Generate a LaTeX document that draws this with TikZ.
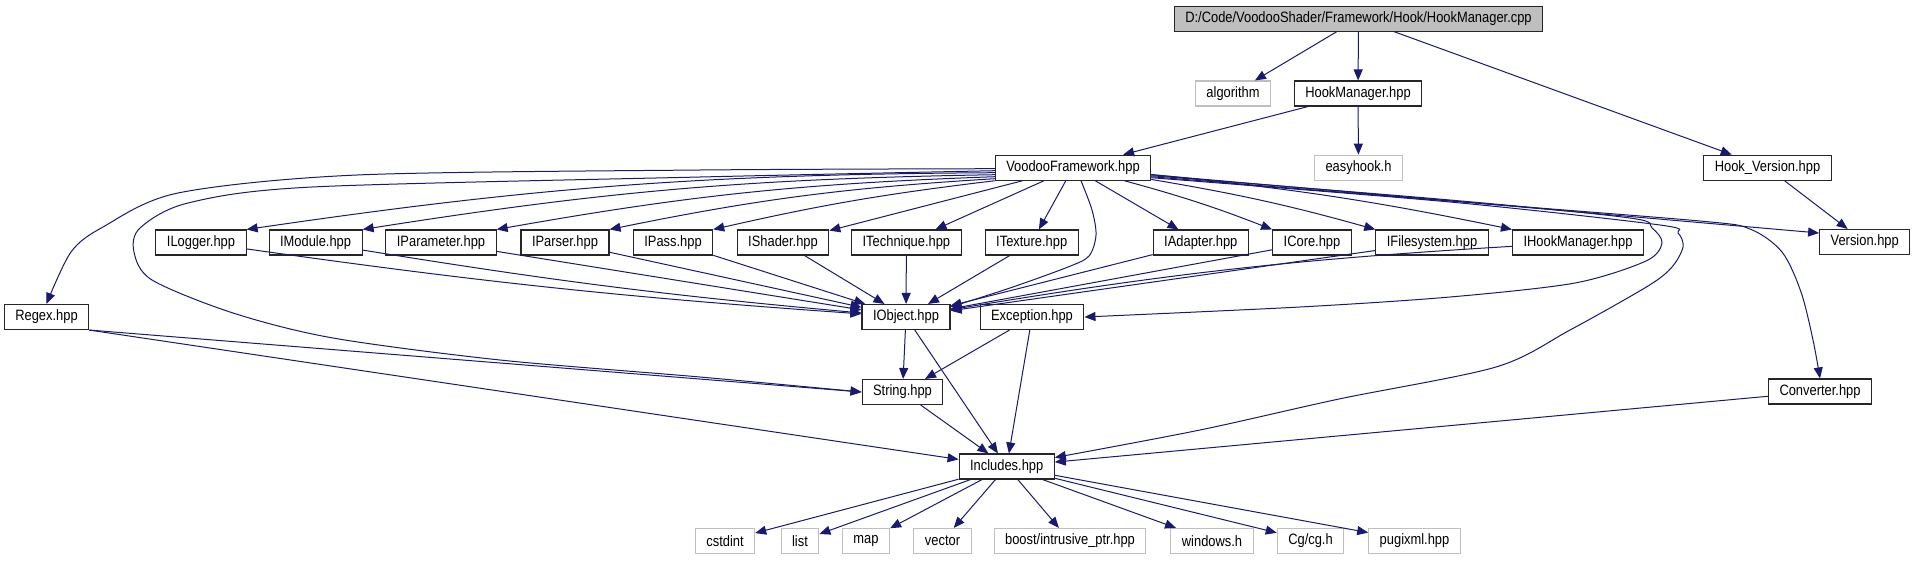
\documentclass[tikz,border=0pt]{standalone}
\usepackage{fontspec}
\setmainfont{Liberation Sans}[FakeStretch=0.86]
\usetikzlibrary{arrows.meta}

\definecolor{depblue}{RGB}{25,25,112}
\definecolor{grey75}{RGB}{191,191,191}

\begin{document}
\begin{tikzpicture}[
  x=1pt, y=-1pt,
  font=\fontsize{15pt}{16pt}\selectfont,
  hdr/.style={draw=black!85, line width=1.1pt, fill=white, inner xsep=11pt,
              inner ysep=0pt, minimum height=25pt},
  sysinc/.style={hdr, draw=grey75},
  srcfile/.style={hdr, fill=grey75},
  dep/.style={draw=depblue, line width=1pt,
              -{Triangle[length=11pt, width=9pt]}},
]
  \useasboundingbox (0,0) rectangle (1916,560);

  % Top of the graph
  \node[srcfile] (main) at (1358.5,18.7)
    {D:/Code/VoodooShader/Framework/Hook/HookManager.cpp};
  \node[sysinc] (algorithm) at (1233,93.5) {algorithm};
  \node[hdr] (hookmgr) at (1358,93.5) {HookManager.hpp};
  \node[hdr] (vf) at (1073,167.7) {VoodooFramework.hpp};
  \node[sysinc] (easyhook) at (1358.5,167.7) {easyhook.h};
  \node[hdr] (hookver) at (1767.5,167.7) {Hook\_Version.hpp};

  % Interface headers
  \node[hdr] (ilogger) at (201,242.5) {ILogger.hpp};
  \node[hdr] (imodule) at (315.6,242.5) {IModule.hpp};
  \node[hdr] (iparameter) at (441,242.5) {IParameter.hpp};
  \node[hdr] (iparser) at (565,242.5) {IParser.hpp};
  \node[hdr] (ipass) at (673,242.5) {IPass.hpp};
  \node[hdr] (ishader) at (783,242.5) {IShader.hpp};
  \node[hdr] (itechnique) at (906.4,242.5) {ITechnique.hpp};
  \node[hdr] (itexture) at (1031.7,242.5) {ITexture.hpp};
  \node[hdr] (iadapter) at (1200.8,242.5) {IAdapter.hpp};
  \node[hdr] (icore) at (1312,242.5) {ICore.hpp};
  \node[hdr] (ifilesystem) at (1432,242.5) {IFilesystem.hpp};
  \node[hdr] (ihookmgr) at (1578,242.5) {IHookManager.hpp};
  \node[hdr] (version) at (1864.7,242) {Version.hpp};

  % Core headers
  \node[hdr] (regex) at (46.5,317) {Regex.hpp};
  \node[hdr] (iobject) at (906,317) {IObject.hpp};
  \node[hdr] (exception) at (1032,317) {Exception.hpp};
  \node[hdr] (string) at (902.5,392) {String.hpp};
  \node[hdr] (converter) at (1820,391.5) {Converter.hpp};
  \node[hdr] (includes) at (1006.7,466.5) {Includes.hpp};

  % System headers
  \node[sysinc] (cstdint) at (725,541) {cstdint};
  \node[sysinc] (list) at (800,541) {list};
  \node[sysinc] (map) at (866,541) {map};
  \node[sysinc] (vector) at (942.5,541) {vector};
  \node[sysinc] (boost) at (1070,541) {boost/intrusive\_ptr.hpp};
  \node[sysinc] (windows) at (1212,541) {windows.h};
  \node[sysinc] (cg) at (1310.5,541) {Cg/cg.h};
  \node[sysinc] (pugixml) at (1414.5,541) {pugixml.hpp};

  % HookManager.cpp and its direct includes
  \draw[dep] (main) -- (algorithm);
  \draw[dep] (main) -- (hookmgr);
  \draw[dep] (main) -- (hookver);
  \draw[dep] (hookmgr) -- (vf);
  \draw[dep] (hookmgr) -- (easyhook);
  \draw[dep] (hookver) -- (version);

  % VoodooFramework.hpp fan-out
  \draw[dep] plot[smooth, tension=0.5] coordinates {([yshift=-1pt]vf.west)
    (700,170) (357,175) (178,193) (103,227) (71,252) (regex.north)};
  \draw[dep] plot[smooth, tension=0.5] coordinates {([yshift=-3pt]vf.west)
    (700,177) (312,187) (188,203) (140,228) (134,252) (152,280) (233,313)
    (333,338) (500,360) (700,377) (string.west)};
  \draw[dep] ([yshift=-5pt]vf.west) to[bend right=4] (ilogger.north east);
  \draw[dep] ([yshift=-7pt]vf.west) to[bend right=4] (imodule.north east);
  \draw[dep] ([yshift=-9pt]vf.west) to[bend right=4] (iparameter.north east);
  \draw[dep] ([yshift=-11pt]vf.west) to[bend right=4] (iparser.north east);
  \draw[dep] (vf.south west) to[bend right=3] (ipass.north east);
  \draw[dep] (vf) -- (ishader);
  \draw[dep] (vf) -- (itechnique);
  \draw[dep] (vf) -- (itexture);
  \draw[dep] plot[smooth, tension=0.5] coordinates {([xshift=8pt]vf.south)
    (1092,210) (1096,235) (1089,256) (1068,267) (1010,288)
    ([yshift=-3pt]iobject.north east)};
  \draw[dep] (vf) -- (iadapter);
  \draw[dep] (vf) to[bend left=3] (icore.north west);
  \draw[dep] (vf) to[bend left=3] (ifilesystem.north west);
  \draw[dep] (vf) to[bend left=3] (ihookmgr.north west);
  \draw[dep] ([yshift=-7pt]vf.east) -- ([yshift=9pt]version.west);
  \draw[dep] plot[smooth, tension=0.5] coordinates {([yshift=-9pt]vf.east)
    (1450,201) (1700,221) (1750,229) (1782,252) (1801,292) (1813,340)
    (converter.north)};
  \draw[dep] plot[smooth, tension=0.5] coordinates {([yshift=-8pt]vf.east)
    (1450,200) (1630,218) (1652,228) (1662,243) (1646,261) (1575,283)
    (1450,297) (1300,307) (exception.east)};
  \draw[dep] plot[smooth, tension=0.5] coordinates {([yshift=-10pt]vf.east)
    (1450,202) (1660,225) (1678,233) (1683,247) (1672,267) (1648,286)
    (1570,330) (1496,367) (1339,399) (1200,430) ([yshift=9pt]includes.east)};

  % Interfaces down to IObject.hpp
  \draw[dep] (ilogger) to[bend right=2] (iobject);
  \draw[dep] (imodule) to[bend right=2] (iobject);
  \draw[dep] (iparameter) -- (iobject);
  \draw[dep] (iparser) -- (iobject);
  \draw[dep] (ipass) -- (iobject);
  \draw[dep] (ishader) -- (iobject);
  \draw[dep] (itechnique) -- (iobject);
  \draw[dep] (itexture) -- (iobject);
  \draw[dep] (iadapter) -- (iobject);
  \draw[dep] (icore) -- (iobject);
  \draw[dep] (ifilesystem) -- (iobject);
  \draw[dep] (ihookmgr) to[bend right=3] (iobject);

  % Core headers down to Includes.hpp
  \draw[dep] (regex.south east) -- (string.west);
  \draw[dep] (regex.south east) -- (includes);
  \draw[dep] (iobject) -- (string);
  \draw[dep] (iobject) -- (includes);
  \draw[dep] (exception) -- (string);
  \draw[dep] (exception) -- (includes);
  \draw[dep] (string) -- (includes);
  \draw[dep] (converter) -- (includes);

  % Includes.hpp and the system headers
  \draw[dep] (includes) -- (cstdint);
  \draw[dep] (includes) -- (list);
  \draw[dep] (includes) -- (map);
  \draw[dep] (includes) -- (vector);
  \draw[dep] (includes) -- (boost);
  \draw[dep] (includes) -- (windows);
  \draw[dep] (includes) -- (cg);
  \draw[dep] (includes) -- (pugixml);
\end{tikzpicture}
\end{document}
